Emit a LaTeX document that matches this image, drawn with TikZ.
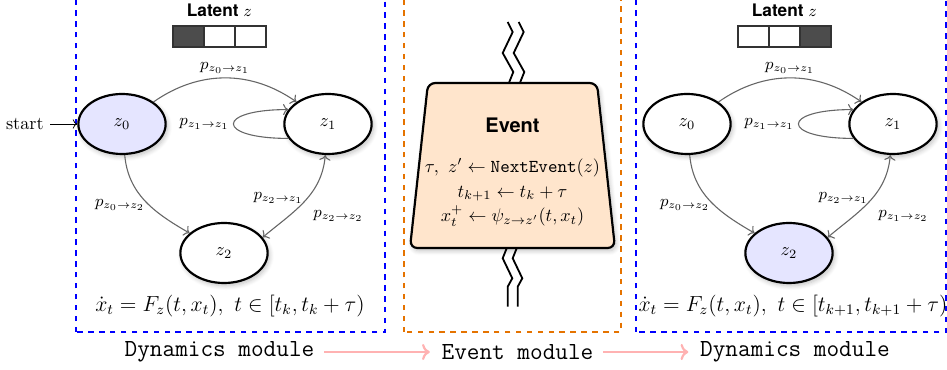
\documentclass[tikz,border=0pt]{standalone}
\usepackage{fontspec}
\setsansfont{TeX Gyre Heros}
\usepackage{xcolor}
\usepackage{tikz}
\usetikzlibrary{shapes.geometric, arrows.meta, positioning, shadows.blur}
\tikzset{
    softshadow/.style={blur shadow={shadow blur steps=6, shadow opacity=25, shadow xshift=1pt, shadow yshift=-1.5pt, shadow blur radius=2.5pt}},
    statenode/.style={draw, ellipse, line width=1.2pt, fill=white, minimum width=48pt, minimum height=33pt, softshadow},
    transit/.style={draw=black!60, line width=0.6pt, ->},
    plabel/.style={font=\small, inner sep=2pt},
    cell/.style={draw=black!80, line width=1pt, fill=white, minimum width=17pt, minimum height=11.5pt, inner sep=0pt},
    latentlabel/.style={font=\fontsize{9.5}{11}\selectfont\sffamily\bfseries},
    dynframe/.style={draw=blue, dashed, line width=0.7pt},
    evtframe/.style={draw=orange!90!black, dashed, line width=0.7pt},
    modlabel/.style={font=\fontsize{13.5}{16}\selectfont\ttfamily},
    flow/.style={draw=red!30, line width=1.2pt, ->, shorten >=3pt, shorten <=2pt},
    wire/.style={line width=1pt},
    eventshape/.style={draw, rounded corners=4pt, line width=1.2pt, fill=orange!20, softshadow},
    eventtext/.style={align=center, inner sep=1pt}
}

\begin{document}
\begin{tikzpicture}[x=0.55pt, y=0.55pt, node distance=15pt]
    \useasboundingbox (0,0) rectangle (947,370);
    \draw [dynframe] (76,38) rectangle (385,376);
    \draw [evtframe] (404,38) rectangle (621,376);
    \draw [dynframe] (636,38) rectangle (946,376);

    % dynamics module, before the event
    \node (cellA) [cell, fill=black!70] at (188.5,333.5) {};
    \node (cellB) [cell, right=-1pt of cellA] {};
    \node (cellC) [cell, right=-1pt of cellB] {};
    \node (latent) [latentlabel, above=1pt of cellB] {Latent $z$};
    \node (z0) [statenode, fill=blue!10] at (122,246) {$z_0$};
    \node (z1) [statenode] at (328,246) {$z_1$};
    \node (z2) [statenode] at (224,117) {$z_2$};
    \node (start) [left=of z0] {start};
    \draw [->] (start) -- (z0);
    \draw [transit] (z0) to[out=35, in=145] node[above, plabel] {$p_{z_0\to z_1}$} (z1);
    \draw [transit] (z1.200) to[out=180, in=180, looseness=6.5] node[left, plabel] {$p_{z_1\to z_1}$} (z1.160);
    \draw [transit] (z0) to[out=-85, in=150] node[pos=0.55, left, plabel] {$p_{z_0\to z_2}$} (z2);
    \draw [transit, <->] (z2.22) to[out=40, in=-95] node[pos=0.55, left, plabel] {$p_{z_2\to z_1}$} node[pos=0.3, right=11pt, plabel] {$p_{z_2\to z_2}$} (z1.-95);
    \node (flowA) at (230,64) {\large $\dot{x}_t = F_z(t, x_t),\ t \in [t_k, t_k+\tau)$};

    % event module
    \foreach \dx in {0,11}
        \draw [wire] (507.7+\dx,348) -- (512.7+\dx,338) -- (502.7+\dx,317) -- (513.3+\dx,298) -- (508.1+\dx,285);
    \foreach \dx in {0,10}
        \draw [wire] (508+\dx,125) -- (502.7+\dx,111.7) -- (512.3+\dx,91.7) -- (507.7+\dx,83.3) -- (507.7+\dx,63.3);
    \draw [eventshape] (410,122) -- (615,122) -- (597,287) -- (428,287) -- cycle;
    \node (event) [eventtext] at (512.5,198) {{\fontsize{11}{13}\selectfont\sffamily\bfseries Event}\\[10pt]
        $\tau,\ z' \leftarrow \texttt{NextEvent}(z)$\\[1.5pt]
        $t_{k+1} \leftarrow t_k + \tau$\\[1.5pt]
        $x_t^{+} \leftarrow \psi_{z\to z'}(t, x_t)$};

    % dynamics module, after the event
    \node (cellD) [cell] at (753.5,333.5) {};
    \node (cellE) [cell, right=-1pt of cellD] {};
    \node (cellF) [cell, fill=black!70, right=-1pt of cellE] {};
    \node (latentR) [latentlabel, above=1pt of cellE] {Latent $z$};
    \node (z0R) [statenode] at (687,246) {$z_0$};
    \node (z1R) [statenode] at (893,246) {$z_1$};
    \node (z2R) [statenode, fill=blue!10] at (789,117) {$z_2$};
    \draw [transit] (z0R) to[out=35, in=145] node[above, plabel] {$p_{z_0\to z_1}$} (z1R);
    \draw [transit] (z1R.200) to[out=180, in=180, looseness=6.5] node[left, plabel] {$p_{z_1\to z_1}$} (z1R.160);
    \draw [transit] (z0R) to[out=-85, in=150] node[pos=0.55, left, plabel] {$p_{z_0\to z_2}$} (z2R);
    \draw [transit, <->] (z2R.22) to[out=40, in=-95] node[pos=0.55, left, plabel] {$p_{z_2\to z_1}$} node[pos=0.3, right=11pt, plabel] {$p_{z_1\to z_2}$} (z1R.-95);
    \node (flowB) at (793,64) {\large $\dot{x}_t = F_z(t, x_t),\ t \in [t_{k+1}, t_{k+1}+\tau)$};

    \node (dynL) [modlabel] at (219.5,18) {Dynamics module};
    \node (evtL) [modlabel] at (517.5,18) {Event module};
    \node (dynR) [modlabel] at (795,18) {Dynamics module};
    \draw [flow] (dynL) -- (evtL);
    \draw [flow] (evtL) -- (dynR);
\end{tikzpicture}
\end{document}
